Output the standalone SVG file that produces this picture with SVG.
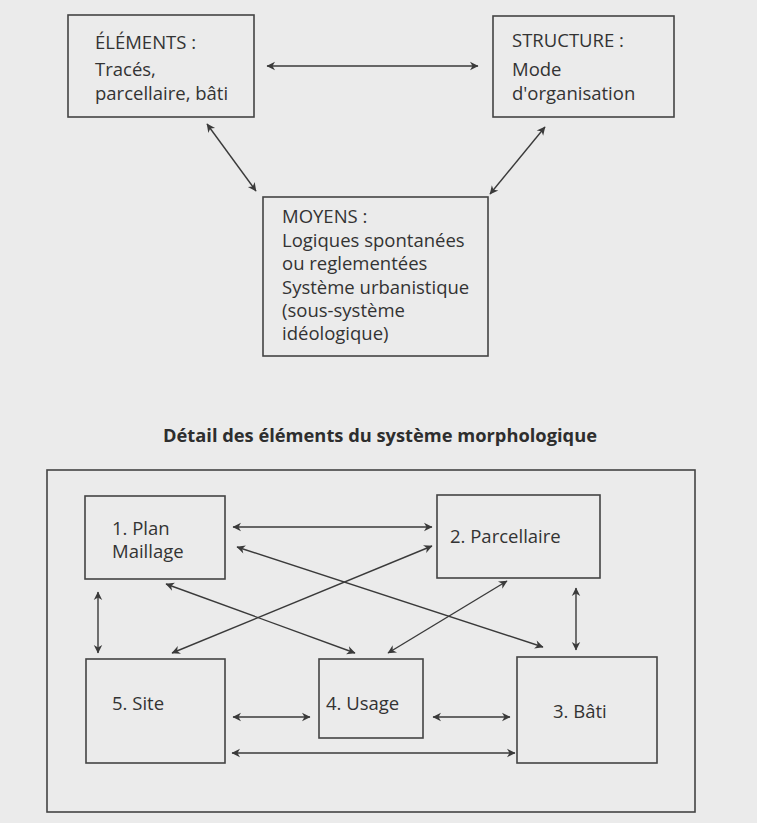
<svg xmlns="http://www.w3.org/2000/svg" width="757" height="823" viewBox="0 0 757 823">
<style>
.bg{fill:#ebebeb}
.box{fill:none;stroke:#444;stroke-width:1.6}
.t{font-family:"Open Sans","Noto Sans",sans-serif;font-size:18.5px;fill:#333}
.title{font-family:"Open Sans","Noto Sans",sans-serif;font-size:18.3px;font-weight:bold;fill:#2e2e2e}
.c{fill:none;stroke:#3a3a3a;stroke-width:1.4;marker-start:url(#ah);marker-end:url(#ah)}
</style>
<defs>
<marker id="ah" viewBox="-10 -5 11 10" refX="0" refY="0" markerWidth="11" markerHeight="10" markerUnits="userSpaceOnUse" orient="auto-start-reverse">
<path d="M0.5,0 L-8,-4.2 L-5.5,0 L-8,4.2 z" fill="#3a3a3a"/>
</marker>
</defs>
<rect class="bg" x="0" y="0" width="757" height="823"/>
<g id="elements"><rect class="box" x="68" y="15" width="186" height="102"/>
<text class="t" x="95" y="49">ÉLÉMENTS :</text><text class="t" x="95" y="76">Tracés,</text><text class="t" x="95" y="100">parcellaire, bâti</text></g>
<g id="structure"><rect class="box" x="493" y="16" width="181" height="101"/>
<text class="t" x="512" y="47">STRUCTURE :</text><text class="t" x="512" y="76">Mode</text><text class="t" x="512" y="100">d'organisation</text></g>
<g id="moyens"><rect class="box" x="263" y="197" width="225" height="159"/>
<text class="t" x="282" y="223">MOYENS :</text><text class="t" x="282" y="247">Logiques spontanées</text><text class="t" x="282" y="270">ou reglementées</text><text class="t" x="282" y="294">Système urbanistique</text><text class="t" x="282" y="317">(sous-système</text><text class="t" x="282" y="340">idéologique)</text></g>
<g id="title"><text class="title" x="380" y="442" text-anchor="middle">Détail des éléments du système morphologique</text></g>
<g id="frame"><rect class="box" x="47" y="470" width="648" height="342"/></g>
<g id="plan"><rect class="box" x="85" y="496" width="140" height="83"/>
<text class="t" x="112" y="535">1. Plan</text><text class="t" x="112" y="558">Maillage</text></g>
<g id="parcellaire"><rect class="box" x="437" y="495" width="163" height="83"/>
<text class="t" x="450" y="543">2. Parcellaire</text></g>
<g id="site"><rect class="box" x="86" y="659" width="139" height="104"/>
<text class="t" x="112" y="710">5. Site</text></g>
<g id="usage"><rect class="box" x="319" y="659" width="104" height="79"/>
<text class="t" x="326" y="710">4. Usage</text></g>
<g id="bati"><rect class="box" x="517" y="657" width="140" height="106"/>
<text class="t" x="553" y="718">3. Bâti</text></g>
<g id="connectors">
<line class="c" x1="267" y1="66" x2="478" y2="66"/>
<line class="c" x1="207" y1="124" x2="256" y2="191"/>
<line class="c" x1="545" y1="127" x2="490" y2="194"/>
<line class="c" x1="233" y1="527" x2="432" y2="527"/>
<line class="c" x1="237" y1="547" x2="543" y2="647"/>
<line class="c" x1="432" y1="546" x2="172" y2="653"/>
<line class="c" x1="166" y1="584" x2="355" y2="653"/>
<line class="c" x1="507" y1="581" x2="388" y2="653"/>
<line class="c" x1="98" y1="592" x2="98" y2="653"/>
<line class="c" x1="576" y1="588" x2="576" y2="650"/>
<line class="c" x1="233" y1="717" x2="310" y2="717"/>
<line class="c" x1="433" y1="717" x2="510" y2="717"/>
<line class="c" x1="232" y1="753" x2="515" y2="753"/>
</g>
</svg>
